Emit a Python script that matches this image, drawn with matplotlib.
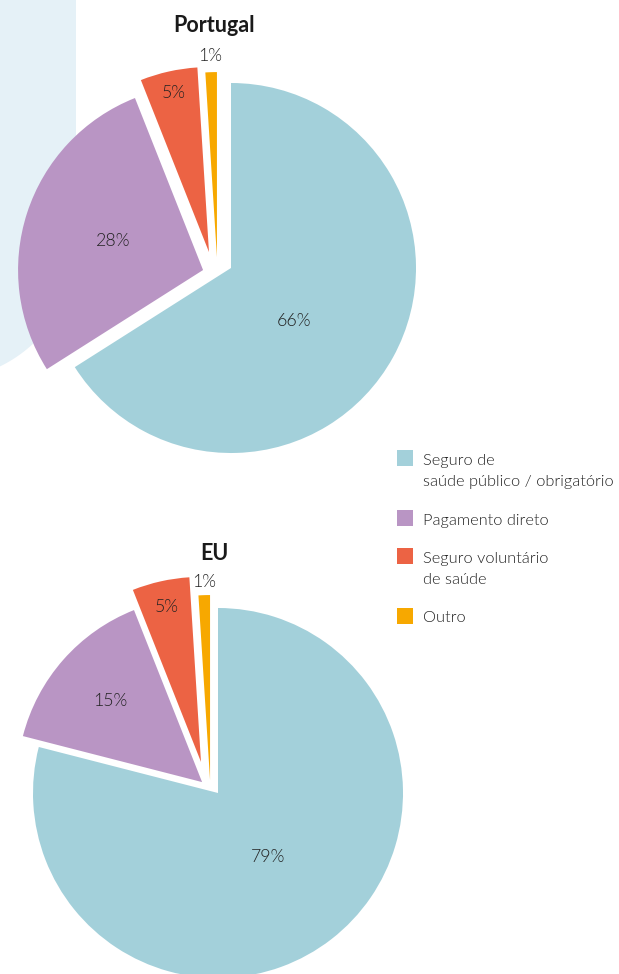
import numpy as np
import matplotlib
matplotlib.use("Agg")
import matplotlib.pyplot as plt
from matplotlib.patches import Rectangle, Polygon

plt.rcParams['font.family'] = ['Lato', 'DejaVu Sans']

# data
categories = ["Seguro de\nsaúde público / obrigatório", "Pagamento direto",
              "Seguro voluntário\nde saúde", "Outro"]
portugal = [66, 28, 5, 1]
eu = [79, 15, 5, 1]

colors = ["#a3d0da", "#b995c4", "#ec6344", "#f7a800"]
txt_col = "#222222"

# per-wedge offsets (pie radius units), label distances and label angle tweaks
shift_pt = [(0, 0), (-0.151, -0.011), (-0.119, 0.086), (-0.076, 0.059)]
shift_eu = [(0, 0), (-0.086, 0.059), (-0.092, 0.168), (-0.043, 0.070)]
ldist_pt = [0.445, 0.51, 0.88, 1.09]
ldist_eu = [0.44, 0.66, 0.86, 1.07]
lrot_pt = [-11, 0, 0, 0]
lrot_eu = [0, 0, 0, 0]

W, H = 619, 974
fig = plt.figure(figsize=(W / 100, H / 100), dpi=100)

# pale backdrop shape at the upper left
R = 135
cx, cy = -59, 245
ang = np.linspace(0, -np.pi / 2, 60)
arc = [(cx + R * np.cos(a), cy - R * np.sin(a)) for a in ang]
pts = [(0, 0), (76, 0)] + arc + [(0, cy + R)]
pts = [(x / W, 1 - y / H) for x, y in pts]
fig.patches.append(Polygon(pts, closed=True, transform=fig.transFigure,
                           facecolor="#e5f1f7", edgecolor="none", zorder=-1))

r_px = 185
lim = 1.3
size = 2 * lim * r_px


def draw_pie(center_px, values, shifts, ldist, lrot):
    x0 = (center_px[0] - size / 2) / W
    y0 = 1 - (center_px[1] + size / 2) / H
    ax = fig.add_axes([x0, y0, size / W, size / H])
    ax.patch.set_visible(False)
    wedges, _ = ax.pie(values, colors=colors, startangle=90, counterclock=False,
                       radius=1, wedgeprops=dict(linewidth=0))
    ax.set_xlim(-lim, lim)
    ax.set_ylim(-lim, lim)
    ax.set_aspect("equal")
    ax.axis("off")
    for w, v, (dx, dy), d, rot in zip(wedges, values, shifts, ldist, lrot):
        w.set_center((dx, dy))
        mid = np.deg2rad((w.theta1 + w.theta2) / 2 + rot)
        ax.text(dx + d * np.cos(mid), dy + d * np.sin(mid), f"{v}%",
                ha="center", va="center", fontsize=12.8, color=txt_col,
                fontweight=300)
    return ax


draw_pie((231, 268), portugal, shift_pt, ldist_pt, lrot_pt)
draw_pie((218, 793), eu, shift_eu, ldist_eu, lrot_eu)

fig.text(214 / W, 1 - 25 / H, "Portugal", ha="center", va="center",
         fontsize=15.5, fontweight="bold", color="#1a1a1a")
fig.text(214 / W, 1 - 553 / H, "EU", ha="center", va="center",
         fontsize=15.5, fontweight="bold", color="#1a1a1a")

# legend
line_h = 22.5
gap = 15
y = 450
for lab, col in zip(categories, colors):
    fig.patches.append(Rectangle((397 / W, 1 - (y + 16) / H), 16 / W, 16 / H,
                                 transform=fig.transFigure, facecolor=col,
                                 edgecolor="none"))
    fig.text(423 / W, 1 - (y + 4) / H, lab, ha="left", va="top", fontsize=11.8,
             color=txt_col, linespacing=1.65, fontweight=300)
    y += line_h * (lab.count("\n") + 1) + gap

fig.savefig("out.png", dpi=100)
